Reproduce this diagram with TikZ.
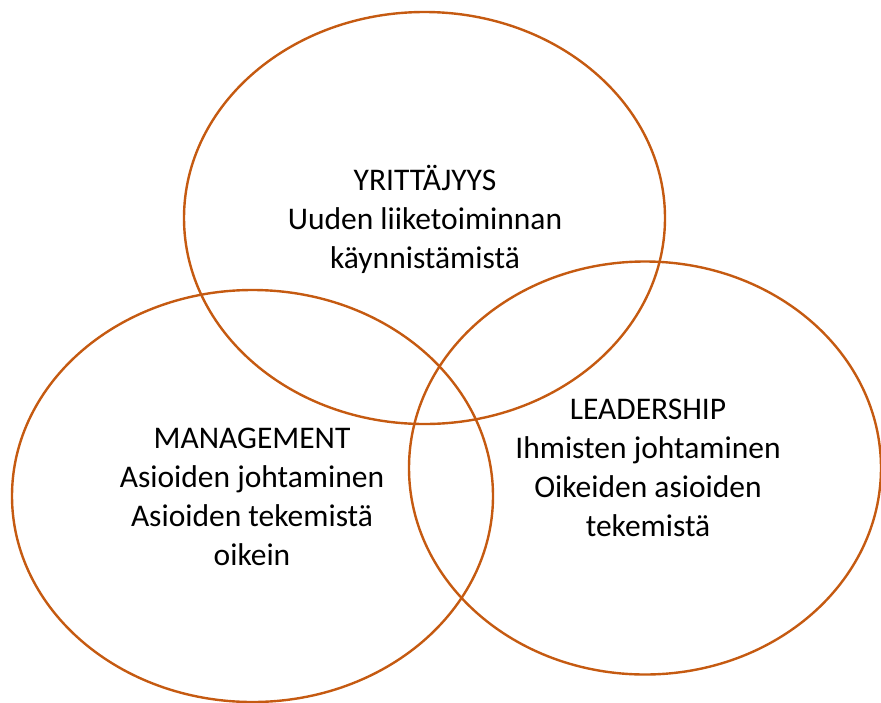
\documentclass[tikz,border=0pt]{standalone}
\usepackage{fontspec}
\setmainfont{Carlito}
\usetikzlibrary{shapes.geometric}
\definecolor{ringc}{HTML}{C55A11}
\tikzset{
  ring/.style={ellipse, draw=ringc, line width=2.4pt, inner sep=0pt},
  lbl/.style={align=center, anchor=base, inner sep=0pt, font=\fontsize{31.5}{39}\selectfont}
}
\begin{document}
\begin{tikzpicture}[x=1pt,y=-1pt]
\useasboundingbox (0,0) rectangle (881,702);
\node[ring, minimum width=481pt, minimum height=412pt] (top) at (424.5,218) {};
\node[ring, minimum width=481pt, minimum height=412pt] (left) at (252.5,496) {};
\node[ring, minimum width=472pt, minimum height=413pt] (right) at (645,468) {};
\node[lbl] (ttop) at (425,268) {YRITTÄJYYS\\Uuden liiketoiminnan\\käynnistämistä};
\node[lbl] (tleft) at (252,565) {MANAGEMENT\\Asioiden johtaminen\\Asioiden tekemistä\\oikein};
\node[lbl] (tright) at (648,536) {LEADERSHIP\\Ihmisten johtaminen\\Oikeiden asioiden\\tekemistä};
\end{tikzpicture}
\end{document}
